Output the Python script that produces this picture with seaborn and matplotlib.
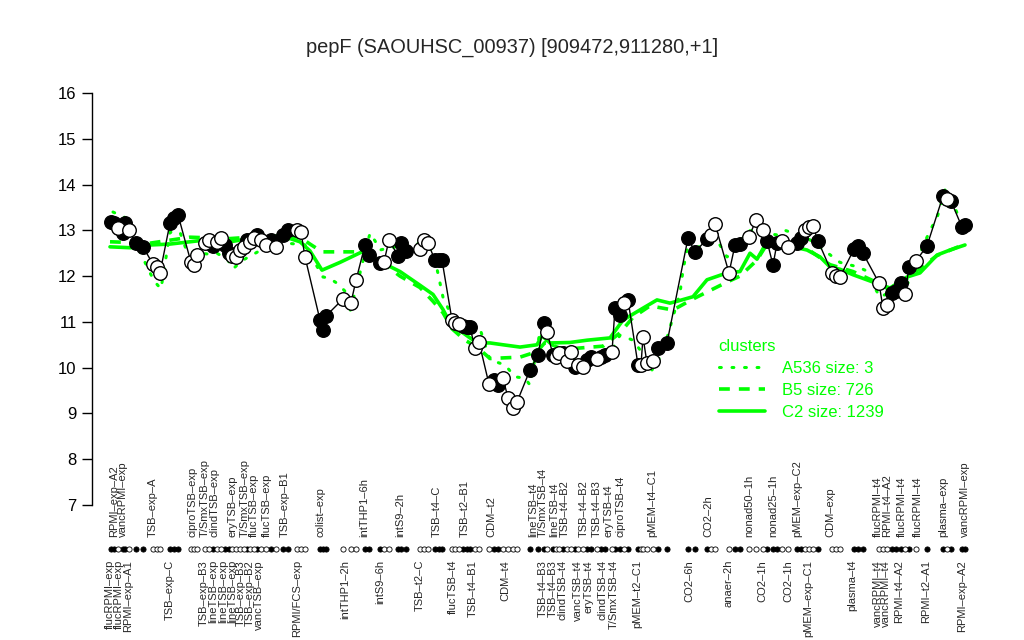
import numpy as np
import pandas as pd
import seaborn as sns
import matplotlib
matplotlib.use("Agg")
import matplotlib.pyplot as plt
from matplotlib.lines import Line2D

# sample positions along the x axis, expression values and whether the marker is filled
pos = [111, 114, 118, 123, 125, 129, 136, 143,
       153, 157, 160,
       170, 174, 178,
       191, 194, 197,
       205, 209, 213, 217, 221, 225, 229, 232, 236, 240, 244, 247, 250, 254, 257, 261, 266, 271, 276, 283, 288,
       297, 301, 305,
       320, 323, 326,
       343, 351, 356,
       365, 369,
       380, 384, 389,
       398, 401, 406,
       420, 424, 428,
       435, 439, 442,
       452, 455, 459, 463, 467, 470, 475, 479,
       489, 494, 498, 503,
       508, 513, 517,
       530,
       538, 544, 547, 553, 556, 559, 563, 567, 571, 575, 578, 583, 587, 591, 597, 601, 605, 612, 615, 620, 624, 628,
       638, 641, 643, 647, 653, 658,
       667,
       688, 695,
       707, 711, 715,
       729, 735, 740,
       749, 756,
       763, 767,
       773, 777, 782,
       788,
       797, 801, 805,
       809, 813, 818,
       832, 836, 840,
       854, 858, 863,
       879, 883, 887, 892, 896, 901, 905, 909, 916,
       927,
       943, 947, 951,
       962, 965]
expr = [13.18, 13.15, 13.06, 12.94, 13.15, 13.0, 12.72, 12.64,
        12.26, 12.2, 12.07,
        13.16, 13.27, 13.34,
        12.3, 12.24, 12.46,
        12.72, 12.79, 12.66, 12.75, 12.83, 12.68, 12.5, 12.44, 12.42, 12.57, 12.64, 12.79, 12.75, 12.83, 12.9, 12.79, 12.68, 12.79, 12.64, 12.9, 13.0,
        13.0, 12.96, 12.42,
        11.04, 10.82, 11.13,
        11.5, 11.42, 11.91,
        12.68, 12.46,
        12.28, 12.31, 12.79,
        12.44, 12.72, 12.55,
        12.59, 12.79, 12.72,
        12.35, 12.35, 12.35,
        11.04, 10.98, 10.95, 10.9, 10.88, 10.88, 10.43, 10.56,
        9.64, 9.73, 9.62, 9.77,
        9.34, 9.12, 9.25,
        9.95,
        10.28, 10.98, 10.78, 10.28, 10.23, 10.32, 10.32, 10.14, 10.34, 10.02, 10.06, 10.02, 10.17, 10.23, 10.19, 10.23, 10.28, 10.34, 11.3, 11.15, 11.41, 11.48,
        10.06, 10.06, 10.67, 10.1, 10.14, 10.43,
        10.54,
        12.83, 12.53,
        12.81, 12.9, 13.14,
        12.07, 12.68, 12.7,
        12.86, 13.22,
        13.0, 12.77,
        12.24, 12.72, 12.77,
        12.64,
        12.72, 12.83, 13.0,
        13.07, 13.09, 12.77,
        12.07, 12.0, 11.98,
        12.59, 12.66, 12.5,
        11.85, 11.3, 11.37, 11.63, 11.68, 11.85, 11.61, 12.2, 12.33,
        12.66,
        13.75, 13.68, 13.64,
        13.07, 13.11]
filled = ("11011011" "000" "111" "000"
          "001001100001001001011000" "111" "000" "111" "00" "111" "000" "111" "000"
          "11100011" "0000" "111" "0"
          "1001001001101101101100001" "111100" "0"
          "11" "000" "111" "00" "11" "000" "1" "000" "111" "000" "111"
          "010110111" "1" "000" "10")

# cluster profiles (solid C2, dashed B5, dotted A536)
c2_pos = [110, 130, 150, 170, 190, 210, 230, 250, 270, 290, 300, 310, 322, 340, 362, 377, 400, 420, 433,
          443, 450, 463, 477, 490, 503, 520, 537, 542, 550, 570, 587, 610, 623, 643, 657, 670, 677, 693,
          707, 727, 740, 750, 757, 767, 793, 807, 820, 830, 840, 853, 873, 890, 907, 920, 937, 950, 965]
c2_val = [12.64, 12.62, 12.68, 12.7, 12.75, 12.8, 12.75, 12.82, 12.8, 12.82, 12.75, 12.55, 12.13, 12.3, 12.53,
          12.35, 12.1, 11.8, 11.6, 11.27, 10.98, 10.76, 10.54, 10.54, 10.5, 10.45, 10.5, 10.7, 10.54, 10.55,
          10.6, 10.65, 11.04, 11.3, 11.48, 11.41, 11.45, 11.55, 11.92, 12.07, 12.1, 12.5, 12.37, 12.75, 12.64,
          12.57, 12.42, 12.2, 12.15, 12.03, 11.87, 11.74, 11.98, 12.07, 12.46, 12.57, 12.68]
b5_pos = [110, 150, 190, 230, 270, 300, 310, 322, 345, 362, 377, 400, 420, 433, 443, 452, 465, 477, 490,
          520, 537, 545, 563, 603, 620, 633, 650, 673, 693, 727, 740, 757, 767, 793, 807, 830, 853, 873,
          890, 907, 937, 965]
b5_val = [12.75, 12.72, 12.85, 12.82, 12.88, 12.85, 12.7, 12.53, 12.53, 12.53, 12.38, 12.0, 11.75, 11.45,
          11.2, 10.85, 10.6, 10.45, 10.2, 10.23, 10.35, 10.55, 10.4, 10.47, 10.76, 11.1, 11.35, 11.26, 11.5,
          11.87, 12.0, 12.35, 12.7, 12.7, 12.6, 12.25, 12.1, 11.9, 11.7, 11.95, 12.45, 12.7]
a536_pos = [113, 126, 142, 150, 155, 161, 170, 180, 187, 209, 217, 228, 233, 243, 261, 287, 305, 323, 329,
            338, 345, 350, 360, 370, 375, 380, 388, 417, 433, 443, 457, 480, 490, 505, 515, 525, 530, 540,
            552, 575, 597, 605, 620, 633, 640, 652, 663, 675, 680, 683, 687, 718, 727, 733, 748, 777, 785,
            793, 807, 813, 840, 858, 865, 880, 908, 920, 930, 937, 945, 955, 962]
a536_val = [13.4, 13.27, 12.44, 12.07, 11.87, 11.72, 12.96, 12.96, 12.53, 12.48, 12.5, 12.35, 12.16, 12.35,
            12.57, 12.72, 12.68, 11.98, 11.96, 11.83, 11.67, 11.22, 12.07, 12.94, 12.77, 12.57, 12.61, 12.72,
            12.57, 11.54, 10.87, 10.85, 10.17, 10.06, 9.8, 9.77, 9.62, 10.78, 10.5, 10.17, 10.1, 10.1, 10.71,
            10.6, 10.39, 9.95, 10.34, 11.26, 11.63, 12.13, 12.57, 12.75, 12.42, 12.5, 13.0, 12.9, 13.0, 12.94,
            12.83, 12.75, 12.3, 12.2, 12.13, 11.54, 11.85, 12.5, 13.0, 13.27, 13.88, 13.49, 13.12]

top_labels = [(114, "RPMI\u2013exp\u2013A2"), (123, "vancRPMI\u2013exp"), (153, "TSB\u2013exp\u2013A"),
              (192, "ciproTSB\u2013exp"), (205, "T/SmxTSB\u2013exp"), (215, "clindTSB\u2013exp"),
              (233, "eryTSB\u2013exp"), (245, "T/SmxTSB\u2013exp"), (254, "flucTSB\u2013exp"),
              (267, "flucTSB\u2013exp"), (285, "TSB\u2013exp\u2013B1"), (321, "colist\u2013exp"),
              (364, "intTHP1\u20136h"), (400, "intS9\u20132h"), (437, "TSB\u2013t4\u2013C"),
              (465, "TSB\u2013t2\u2013B1"), (491, "CDM\u2013t2"), (533, "lineTSB\u2013t4"),
              (543, "T/SmxTSB\u2013t4"), (554, "lineTSB\u2013t4"), (565, "TSB\u2013t4\u2013B2"),
              (584, "TSB\u2013t4\u2013B2"), (597, "TSB\u2013t4\u2013B3"), (608, "eryTSB\u2013t4"),
              (620, "ciproTSB\u2013t4"), (652, "pMEM\u2013t4\u2013C1"), (708, "CO2\u20132h"),
              (749, "nonad50\u20131h"), (773, "nonad25\u20131h"), (797, "pMEM\u2013exp\u2013C2"),
              (830, "CDM\u2013exp"), (878, "flucRPMI\u2013t4"), (887, "RPMI\u2013t4\u2013A2"),
              (902, "flucRPMI\u2013t4"), (918, "flucRPMI\u2013t4"), (943, "plasma\u2013exp"),
              (965, "vancRPMI\u2013exp")]
bottom_labels = [(110, "flucRPMI\u2013exp"), (119, "flucRPMI\u2013exp"), (128, "RPMI\u2013exp\u2013A1"),
                 (170, "TSB\u2013exp\u2013C"), (204, "TSB\u2013exp\u2013B3"), (213, "lineTSB\u2013exp"),
                 (223, "lineTSB\u2013exp"), (232, "lineTSB\u2013exp"), (241, "TSB\u2013exp\u2013B3"),
                 (250, "TSB\u2013exp\u2013B2"), (259, "vancTSB\u2013exp"), (297, "RPMI/FCS\u2013exp"),
                 (345, "intTHP1\u20132h"), (380, "intS9\u20136h"), (420, "TSB\u2013t2\u2013C"),
                 (453, "flucTSB\u2013t4"), (473, "TSB\u2013t4\u2013B1"), (505, "CDM\u2013t4"),
                 (543, "TSB\u2013t4\u2013B3"), (553, "TSB\u2013t4\u2013B3"), (562, "clindTSB\u2013t4"),
                 (578, "vancTSB\u2013t4"), (589, "eryTSB\u2013t4"), (603, "clindTSB\u2013t4"),
                 (614, "T/SmxTSB\u2013t4"), (637, "pMEM\u2013t2\u2013C1"), (689, "CO2\u20136h"),
                 (729, "anaer\u20132h"), (762, "CO2\u20131h"), (788, "CO2\u20131h"),
                 (808, "pMEM\u2013exp\u2013C1"), (852, "plasma\u2013t4"), (878, "vancRPMI\u2013t4"),
                 (886, "vancRPMI\u2013t4"), (899, "RPMI\u2013t4\u2013A2"), (926, "RPMI\u2013t2\u2013A1"),
                 (962, "RPMI\u2013exp\u2013A2")]

n = min(len(pos), len(expr), len(filled))
df = pd.DataFrame({"pos": pos[:n], "expr": expr[:n], "filled": [c == "1" for c in filled[:n]]})

sns.set_style("white")
plt.rcParams["font.family"] = ["Liberation Sans", "DejaVu Sans"]

green = "#00ff00"
fig = plt.figure(figsize=(10.24, 6.4), dpi=100)
ax = fig.add_axes([92 / 1024, 135 / 640, 898 / 1024, 412 / 640])

sns.lineplot(x=c2_pos, y=c2_val, ax=ax, color=green, lw=2.6, sort=False, estimator=None)
sns.lineplot(x=b5_pos, y=b5_val, ax=ax, color=green, lw=2.6, sort=False, estimator=None,
             linestyle=(0, (3, 2.5)))
sns.lineplot(x=a536_pos, y=a536_val, ax=ax, color=green, lw=2.2, sort=False, estimator=None,
             linestyle=(0, (0.6, 3.5)), dash_capstyle="round")
sns.lineplot(data=df, x="pos", y="expr", ax=ax, color="black", lw=1, sort=False, estimator=None)

fd = df[df["filled"]]
od = df[~df["filled"]]
sns.scatterplot(data=fd, x="pos", y="expr", ax=ax, color="black", edgecolor="black", s=95, lw=1, zorder=3)
sns.scatterplot(data=od, x="pos", y="expr", ax=ax, color="white", edgecolor="black", s=95, lw=1, zorder=3)

# strip of small markers under the plot
ax.scatter(fd["pos"], np.full(len(fd), 6.04), s=14, color="black", edgecolor="black", lw=0.6,
           clip_on=False, zorder=3)
ax.scatter(od["pos"], np.full(len(od), 6.04), s=14, color="white", edgecolor="black", lw=0.6,
           clip_on=False, zorder=3)

for x, lab in top_labels:
    ax.text(x, 6.30, lab, rotation=90, ha="center", va="bottom", fontsize=8, clip_on=False)
for x, lab in bottom_labels:
    ax.text(x, 5.80, lab, rotation=90, ha="center", va="top", fontsize=8, clip_on=False)

ax.set_xlim(92, 990)
ax.set_ylim(7, 16)
ax.set_yticks(range(7, 17))
ax.set_xticks([])
ax.set_xlabel("")
ax.set_ylabel("")
for s in ["top", "right", "bottom"]:
    ax.spines[s].set_visible(False)
ax.spines["left"].set_bounds(7, 16)
ax.spines["left"].set_color("black")
ax.spines["left"].set_linewidth(1)
ax.tick_params(axis="y", left=True, length=7, width=1, labelsize=12, pad=4, colors="black")

fig.text(0.5, 1 - 47 / 640, "pepF (SAOUHSC_00937) [909472,911280,+1]", ha="center", va="center",
         fontsize=14.4)

handles = [Line2D([], [], color=green, lw=2.2, linestyle=(0, (0.6, 3.5)), dash_capstyle="round"),
           Line2D([], [], color=green, lw=2.6, linestyle=(0, (3, 2.5))),
           Line2D([], [], color=green, lw=2.6)]
leg = ax.legend(handles, ["A536 size: 3", "B5 size: 726", "C2 size: 1239"], title="clusters",
                loc="upper left", bbox_to_anchor=(712 / 1024, 1 - 332 / 640), bbox_transform=fig.transFigure,
                frameon=False, fontsize=12, title_fontsize=12, handlelength=2.8, labelspacing=0.42,
                labelcolor=green, alignment="left", borderaxespad=0, handletextpad=1.0)
leg.get_title().set_color(green)

fig.savefig("out.png", dpi=100)
